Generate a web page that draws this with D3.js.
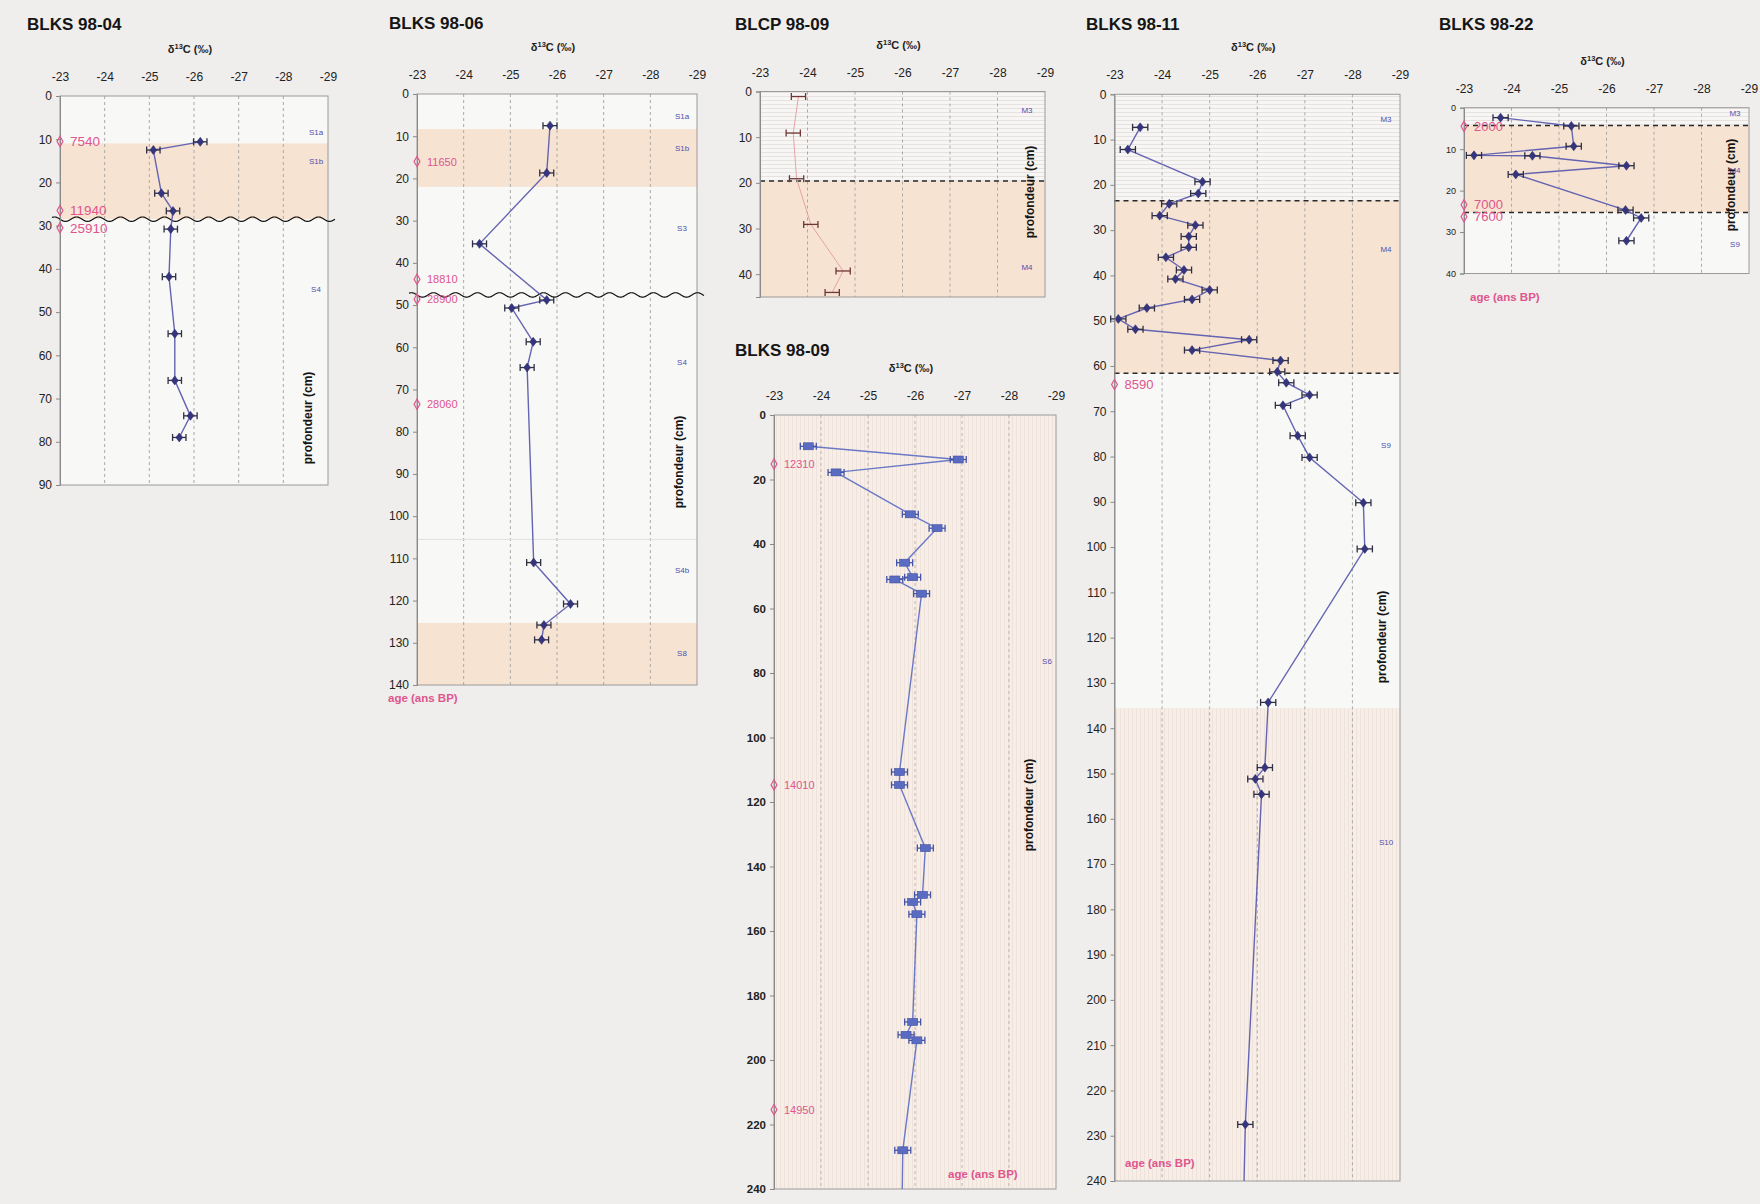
<!DOCTYPE html>
<html><head><meta charset="utf-8">
<script src="https://cdn.jsdelivr.net/npm/d3@7"></script>
<style>
html,body{margin:0;padding:0;background:#efeeec;}
svg{display:block;font-family:"Liberation Sans",Arial,Helvetica,sans-serif;}
</style></head>
<body><svg id="c" width="1760" height="1204"></svg>
<script>
// ---------- shared ----------
const xTicks = [-23,-24,-25,-26,-27,-28,-29];

// ---------- BLKS 98-04 ----------
const k04Depth = [10.6,12.5,22.5,26.6,30.8,41.8,55,65.8,74,79];
const k04Value = [-26.14,-25.09,-25.27,-25.53,-25.48,-25.44,-25.57,-25.57,-25.92,-25.67];
const k04AgeDepth = [10.5,26.5,30.5];
const k04AgeText = ["7540","11940","25910"];
const k04UnitDepth = [8.4,15.2,44.6];
const k04UnitText = ["S1a","S1b","S4"];
const k04ZoneFrom = [0,11,28.5];
const k04ZoneTo = [11,28.5,90];
const k04ZoneKind = ["plain","peach","plain"];

// ---------- BLKS 98-06 ----------
const k06Depth = [7.5,18.7,35.5,48.8,50.7,58.7,64.8,111,120.8,125.8,129.3];
const k06Value = [-25.85,-25.78,-24.34,-25.78,-25.03,-25.49,-25.36,-25.5,-26.29,-25.72,-25.67];
const k06AgeDepth = [16,43.9,48.6,73.5];
const k06AgeText = ["11650","18810","28900","28060"];
const k06UnitDepth = [5.3,12.8,31.8,63.5,112.9,132.5];
const k06UnitText = ["S1a","S1b","S3","S4","S4b","S8"];
const k06ZoneFrom = [0,8.3,22,125.3];
const k06ZoneTo = [8.3,22,125.3,140];
const k06ZoneKind = ["plain","peach","plain","peach"];

// ---------- BLCP 98-09 ----------
const p09Depth = [1.1,9.1,19.1,29.1,39.3,44];
const p09Value = [-23.81,-23.70,-23.77,-24.07,-24.75,-24.52];
const p09UnitDepth = [4,38.5];
const p09UnitText = ["M3","M4"];
const p09ZoneFrom = [0,19.6];
const p09ZoneTo = [19.6,45];
const p09ZoneKind = ["hstripe","peach"];

// ---------- BLKS 98-09 ----------
const k09Depth = [9.7,13.8,17.8,30.8,35.1,45.8,50.3,51,55.4,110.7,114.7,134.3,148.8,151,154.8,188.2,192.2,193.9,228,250];
const k09Value = [-23.73,-26.92,-24.32,-25.9,-26.47,-25.78,-25.95,-25.57,-26.14,-25.67,-25.67,-26.22,-26.16,-25.95,-26.04,-25.95,-25.81,-26.04,-25.74,-25.72];
const k09AgeDepth = [15.2,114.7,215.4];
const k09AgeText = ["12310","14010","14950"];
const k09UnitDepth = [76.3];
const k09UnitText = ["S6"];
const k09ZoneFrom = [0];
const k09ZoneTo = [240];
const k09ZoneKind = ["vstripe"];

// ---------- BLKS 98-11 ----------
const k11Depth = [7.3,12.2,19.3,21.9,24.2,26.8,28.9,31.4,33.8,36,38.8,40.8,43.2,45.3,47.2,49.6,51.9,54.2,56.5,58.8,61.3,63.7,66.4,68.7,75.4,80.2,90.2,100.4,134.3,148.7,151.2,154.6,227.5,250];
const k11Value = [-23.54,-23.28,-24.85,-24.76,-24.15,-23.95,-24.7,-24.56,-24.56,-24.08,-24.46,-24.28,-25.0,-24.63,-23.68,-23.08,-23.44,-25.83,-24.63,-26.49,-26.42,-26.61,-27.1,-26.54,-26.85,-27.1,-28.23,-28.26,-26.23,-26.16,-25.96,-26.09,-25.75,-25.70];
const k11AgeDepth = [64.1];
const k11AgeText = ["8590"];
const k11UnitDepth = [5.4,34.2,77.6,165.2];
const k11UnitText = ["M3","M4","S9","S10"];
const k11ZoneFrom = [0,23.5,61.6,135.6];
const k11ZoneTo = [23.5,61.6,135.6,240];
const k11ZoneKind = ["hstripe","peach","plain","vstripe"];

// ---------- BLKS 98-22 ----------
const k22Depth = [2.4,4.4,9.3,11.5,11.6,14,16.1,24.7,26.6,32.1];
const k22Value = [-23.77,-25.26,-25.31,-23.21,-24.44,-26.42,-24.09,-26.4,-26.73,-26.42];
const k22AgeDepth = [4.5,23.4,26.3];
const k22AgeText = ["2000","7000","7600"];
const k22UnitDepth = [1.4,15,33];
const k22UnitText = ["M3","M4","S9"];
const k22ZoneFrom = [0,4.3,25.3];
const k22ZoneTo = [4.3,25.3,40];
const k22ZoneKind = ["hstripe","peach","plain"];

// ---------- panel layout ----------
const zones = (f,t,k)=>f.map((d,i)=>({from:d,to:t[i],kind:k[i]}));
const pts = (d,v)=>d.map((dd,i)=>({depth:dd,value:v[i]}));
const labs = (d,t)=>d.map((dd,i)=>({depth:dd,text:t[i]}));

const panels = [
 {title:"BLKS 98-04", tx:27, ty:30, left:60, right:328, top:96, bottom:485, dmax:90, ystep:10,
  data:pts(k04Depth,k04Value), err:0.15, ages:labs(k04AgeDepth,k04AgeText), ageFont:13.5,
  units:labs(k04UnitDepth,k04UnitText), unitX:316, zones:zones(k04ZoneFrom,k04ZoneTo,k04ZoneKind),
  wavy:[28.5], dashed:[], faint:[], style:"diamond", prof:[308,418], ageTitle:null, yFont:12},
 {title:"BLKS 98-06", tx:389, ty:29, left:417, right:697, top:94, bottom:685, dmax:140, ystep:10,
  data:pts(k06Depth,k06Value), err:0.15, ages:labs(k06AgeDepth,k06AgeText), ageFont:11,
  units:labs(k06UnitDepth,k06UnitText), unitX:682, zones:zones(k06ZoneFrom,k06ZoneTo,k06ZoneKind),
  wavy:[47.6], dashed:[], faint:[105.5], style:"diamond", prof:[679,462], ageTitle:[388,702], yFont:12},
 {title:"BLCP 98-09", tx:735, ty:30, left:760, right:1045, top:91.5, bottom:297, dmax:45, ystep:10, ymaxTick:40,
  data:pts(p09Depth,p09Value), err:0.15, ages:[], ageFont:11,
  units:labs(p09UnitDepth,p09UnitText), unitX:1027, zones:zones(p09ZoneFrom,p09ZoneTo,p09ZoneKind),
  wavy:[], dashed:[19.6], faint:[], style:"none", prof:[1030,192], ageTitle:null, yFont:12},
 {title:"BLKS 98-09", tx:735, ty:356, left:774, right:1056, top:415, bottom:1189, dmax:240, ystep:20,
  data:pts(k09Depth,k09Value), err:0.17, ages:labs(k09AgeDepth,k09AgeText), ageFont:11,
  units:labs(k09UnitDepth,k09UnitText), unitX:1047, zones:zones(k09ZoneFrom,k09ZoneTo,k09ZoneKind),
  wavy:[], dashed:[], faint:[], style:"square", prof:[1029,805], ageTitle:[948,1178], yFont:11.5, yBold:true},
 {title:"BLKS 98-11", tx:1086, ty:30, left:1114.5, right:1400, top:94.3, bottom:1181, dmax:240, ystep:10,
  data:pts(k11Depth,k11Value), err:0.16, ages:labs(k11AgeDepth,k11AgeText), ageFont:13,
  units:labs(k11UnitDepth,k11UnitText), unitX:1386, zones:zones(k11ZoneFrom,k11ZoneTo,k11ZoneKind),
  wavy:[], dashed:[23.5,61.6], faint:[], style:"diamond", prof:[1382,637], ageTitle:[1125,1167], yFont:12},
 {title:"BLKS 98-22", tx:1439, ty:30, left:1464, right:1749, top:107.7, bottom:273.5, dmax:40, ystep:10,
  data:pts(k22Depth,k22Value), err:0.16, ages:labs(k22AgeDepth,k22AgeText), ageFont:13,
  units:labs(k22UnitDepth,k22UnitText), unitX:1735, zones:zones(k22ZoneFrom,k22ZoneTo,k22ZoneKind),
  wavy:[], dashed:[4.3,25.3], faint:[], style:"diamond", prof:[1731,185], ageTitle:[1470,301], yFont:9}
];

const svg = d3.select("#c");
const defs = svg.append("defs");
const ph = defs.append("pattern").attr("id","hstripe").attr("patternUnits","userSpaceOnUse").attr("width",8).attr("height",4);
ph.append("rect").attr("width",8).attr("height",4).attr("fill","#f8f6f4");
ph.append("rect").attr("y",0).attr("width",8).attr("height",1).attr("fill","#e6e2e0");
const pv = defs.append("pattern").attr("id","vstripe").attr("patternUnits","userSpaceOnUse").attr("width",4).attr("height",8);
pv.append("rect").attr("width",4).attr("height",8).attr("fill","#f7eee8");
pv.append("rect").attr("x",0).attr("width",1).attr("height",8).attr("fill","#efe2da");
const fills = {plain:"#f8f8f6", peach:"#f7e3d2", hstripe:"url(#hstripe)", vstripe:"url(#vstripe)"};

const styles = {
  diamond:{line:"#6464b2", err:"#2f2f44", mark:"#35357e"},
  square:{line:"#6a79c6", err:"#4454a6", mark:"#5a6cc2"},
  none:{line:"#e6a2a6", err:"#6e3636", mark:null}
};

panels.forEach((p,pi)=>{
  const x = d3.scaleLinear().domain([-23,-29]).range([p.left,p.right]);
  const y = d3.scaleLinear().domain([0,p.dmax]).range([p.top,p.bottom]);
  const g = svg.append("g");
  const st = styles[p.style];
  const W = p.right-p.left, H = p.bottom-p.top;

  defs.append("clipPath").attr("id","clip"+pi).append("rect")
    .attr("x",p.left).attr("y",p.top).attr("width",W).attr("height",H);

  // zones
  g.selectAll("rect.zone").data(p.zones).join("rect").attr("class","zone")
    .attr("x",p.left).attr("width",W)
    .attr("y",d=>y(d.from)).attr("height",d=>y(d.to)-y(d.from))
    .attr("fill",d=>fills[d.kind]);

  // gridlines
  g.selectAll("line.grid").data(xTicks.slice(1,-1)).join("line").attr("class","grid")
    .attr("x1",d=>x(d)).attr("x2",d=>x(d)).attr("y1",p.top).attr("y2",p.bottom)
    .attr("stroke", p.style==="square" ? "#c4b3ae" : "#a9a9a9")
    .attr("stroke-width",1).attr("stroke-dasharray","3,3");

  // faint separators
  g.selectAll("line.faint").data(p.faint).join("line")
    .attr("x1",p.left).attr("x2",p.right).attr("y1",d=>y(d)).attr("y2",d=>y(d))
    .attr("stroke","#e0e0e0").attr("stroke-width",1);

  // frame
  g.append("rect").attr("x",p.left).attr("y",p.top).attr("width",W).attr("height",H)
    .attr("fill","none").attr("stroke","#9a9a9a").attr("stroke-width",1);

  // dashed boundaries
  g.selectAll("line.dash").data(p.dashed).join("line")
    .attr("x1",p.left).attr("x2",p.right).attr("y1",d=>y(d)).attr("y2",d=>y(d))
    .attr("stroke","#2a2a2a").attr("stroke-width",1.5).attr("stroke-dasharray","5,4");

  // wavy unconformities
  p.wavy.forEach(dv=>{
    const xs = d3.range(p.left-8, p.right+8, 1);
    g.append("path").attr("fill","none").attr("stroke","#111").attr("stroke-width",1.2)
      .attr("d", d3.line().x(d=>d).y(d=>y(dv)+2.2*Math.sin((d-p.left)/22*2*Math.PI))(xs));
  });

  // data line
  g.append("path").datum(p.data).attr("clip-path","url(#clip"+pi+")")
    .attr("fill","none").attr("stroke",st.line).attr("stroke-width",p.style==="none"?1:1.4)
    .attr("d", d3.line().x(d=>x(d.value)).y(d=>y(d.depth)));

  const vis = p.data.filter(d=>d.depth<=p.dmax);
  // error bars
  const eb = g.selectAll("g.eb").data(vis).join("g").attr("stroke",st.err).attr("stroke-width",1.3);
  eb.append("line").attr("x1",d=>x(d.value-p.err)).attr("x2",d=>x(d.value+p.err))
    .attr("y1",d=>y(d.depth)).attr("y2",d=>y(d.depth));
  eb.append("line").attr("x1",d=>x(d.value-p.err)).attr("x2",d=>x(d.value-p.err))
    .attr("y1",d=>y(d.depth)-3.5).attr("y2",d=>y(d.depth)+3.5);
  eb.append("line").attr("x1",d=>x(d.value+p.err)).attr("x2",d=>x(d.value+p.err))
    .attr("y1",d=>y(d.depth)-3.5).attr("y2",d=>y(d.depth)+3.5);

  // markers
  if(p.style==="diamond"){
    g.selectAll("path.mk").data(vis).join("path").attr("class","mk")
      .attr("transform",d=>`translate(${x(d.value)},${y(d.depth)}) scale(1.25,0.95)`)
      .attr("d",d3.symbol().type(d3.symbolDiamond).size(26))
      .attr("fill",st.mark).attr("stroke","#2a2a6a").attr("stroke-width",0.5);
  } else if(p.style==="square"){
    g.selectAll("rect.mk").data(vis).join("rect").attr("class","mk")
      .attr("x",d=>x(d.value)-5).attr("y",d=>y(d.depth)-3.5).attr("width",10).attr("height",7)
      .attr("fill",st.mark).attr("stroke","#4050a0").attr("stroke-width",0.6);
  }

  // axes
  const ya = g.append("g").attr("transform",`translate(${p.left},0)`)
    .call(d3.axisLeft(y).tickValues(d3.range(0,(p.ymaxTick||p.dmax)+0.1,p.ystep)).tickSize(4).tickPadding(4));
  ya.select(".domain").attr("stroke","#8a8a8a");
  ya.selectAll(".tick line").attr("stroke","#8a8a8a");
  ya.selectAll(".tick text").attr("font-size",p.yFont).attr("fill","#222")
    .attr("font-weight",p.yBold?"bold":"normal").attr("font-family","Liberation Sans, Arial, sans-serif");

  const xa = g.append("g").attr("transform",`translate(0,${p.top})`)
    .call(d3.axisTop(x).tickValues(xTicks).tickSize(0).tickPadding(15).tickFormat(d=>String(d)));
  xa.select(".domain").remove();
  xa.selectAll(".tick text").attr("font-size",12).attr("fill","#222").attr("font-family","Liberation Sans, Arial, sans-serif");

  // δ13C label
  const dl = g.append("text").attr("x",(p.left+p.right)/2-4).attr("y",p.top-43)
    .attr("text-anchor","middle").attr("font-size",11).attr("font-weight","bold").attr("fill","#222");
  dl.append("tspan").text("δ");
  dl.append("tspan").attr("dy",-4).attr("font-size",7.5).text("13");
  dl.append("tspan").attr("dy",4).text("C (‰)");

  // title
  g.append("text").attr("x",p.tx).attr("y",p.ty).attr("font-size",17).attr("font-weight","bold")
    .attr("fill","#151515").text(p.title);

  // unit labels
  g.selectAll("text.unit").data(p.units).join("text").attr("class","unit")
    .attr("x",p.unitX).attr("y",d=>y(d.depth)).attr("dy","0.35em").attr("text-anchor","middle")
    .attr("font-size",8).attr("fill","#4f4fb0").text(d=>d.text);

  // ages
  g.selectAll("path.agem").data(p.ages).join("path").attr("class","agem")
    .attr("transform",d=>`translate(${p.left},${y(d.depth)})`)
    .attr("d",d3.symbol().type(d3.symbolDiamond).size(30))
    .attr("fill","none").attr("stroke","#e0558d").attr("stroke-width",1.2);
  g.selectAll("text.age").data(p.ages).join("text").attr("class","age")
    .attr("x",p.left+10).attr("y",d=>y(d.depth)).attr("dy","0.36em")
    .attr("font-size",p.ageFont).attr("fill","#e0558d").text(d=>d.text);

  // profondeur
  g.append("text").attr("transform",`translate(${p.prof[0]},${p.prof[1]}) rotate(-90)`)
    .attr("text-anchor","middle").attr("dy","0.35em").attr("font-size",12).attr("font-weight","bold")
    .attr("fill","#151515").text("profondeur (cm)");

  if(p.ageTitle){
    g.append("text").attr("x",p.ageTitle[0]).attr("y",p.ageTitle[1]).attr("font-size",11.5)
      .attr("font-weight","bold").attr("fill","#e0558d").text("age (ans BP)");
  }
});
</script></body></html>
